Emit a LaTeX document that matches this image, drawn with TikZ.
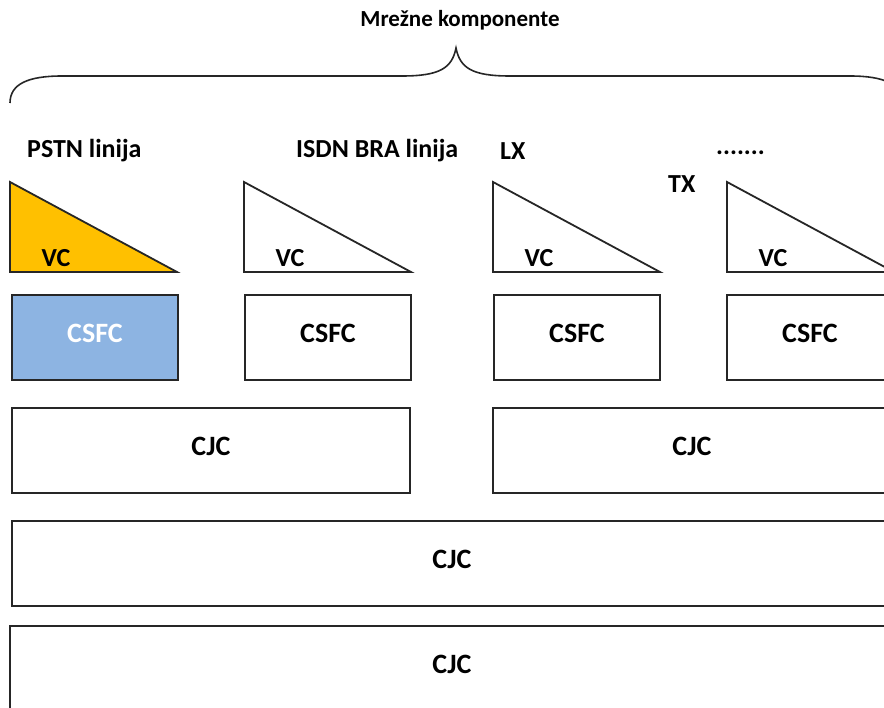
\documentclass[tikz,border=0pt]{standalone}
\usepackage{fontspec}
\setmainfont{Carlito}
\usepackage{xcolor}
\usetikzlibrary{calc,positioning}
\definecolor{vcyellow}{HTML}{FFC000}
\definecolor{csfcblue}{HTML}{8DB4E2}
\newcommand{\lblfont}{\fontsize{26}{30}\selectfont\bfseries}
\newcommand{\boxfont}{\fontsize{28}{32}\selectfont\bfseries}

\begin{document}
\begin{tikzpicture}[x=1pt,y=-1pt,line join=miter]
  \tikzset{%
    frame/.style={draw=black!85, line width=1.8pt},%
    box/.style={frame, rectangle, inner sep=0pt, minimum height=85pt,
      text depth=8pt, font=\boxfont},%
    csfcbox/.style={box, minimum width=166pt},%
    cjcbox/.style={box},%
    label/.style={anchor=west, inner sep=0pt, font=\lblfont},%
    vclabel/.style={inner sep=0pt, font=\lblfont}%
  }%
  \useasboundingbox (0,0) rectangle (884,708);%
  \clip (0,0) rectangle (884,708);%

  %
  % Zagrada
  %
  \node[font=\fontsize{23}{27}\selectfont\bfseries] (mreza) at (460,20) {Mrežne komponente};%
  \coordinate (brace tip) at (456,48);%
  \draw[black!85, line width=1.6pt] (10,103)
    .. controls (10,84) and (28,76) .. (62,76) -- (402,76)
    .. controls (440,76) and (452,68) .. (brace tip)
    .. controls (460,68) and (472,76) .. (510,76) -- (850,76)
    .. controls (884,76) and (902,84) .. (902,103);%

  %
  % Linije
  %
  \node[label] (pstn) at (27,151) {PSTN linija};%
  \node[label] (isdn) at (296,151) {ISDN BRA linija};%
  \node[label] (lx) at (500,151) {LX};%
  \node[label] (dots) at (716,153) {.......};%
  \node[label] (tx) at (668,184) {TX};%

  % VC trokuti
  \foreach \n/\x/\c in {1/10/vcyellow,2/244/white,3/493/white,4/727/white} {%
      \draw[frame, fill=\c] (\x,182) -- (\x,272) -- ++(167,0) -- cycle;%
      \node[vclabel] (vc\n) at ($(\x,258)+(46,0)$) {VC};%
    }%

  % CSFC
  \node[csfcbox, fill=csfcblue, text=white] (csfc1) at (95,337.5) {CSFC};%
  \foreach \n/\x in {2/328,3/577,4/810} {%
      \node[csfcbox] (csfc\n) at (\x,337.5) {CSFC};%
    }%

  %
  % CJC slojevi
  %
  \node[cjcbox, minimum width=398pt] (cjc left) at (211,450.5) {CJC};%
  \node[cjcbox, minimum width=398pt] (cjc right) at (692,450.5) {CJC};%
  \node[cjcbox, minimum width=880pt] (cjc mid) at (452,563.5) {CJC};%
  \node[cjcbox, minimum width=884pt] (cjc bottom) at (452,668.5) {CJC};%
\end{tikzpicture}
\end{document}
